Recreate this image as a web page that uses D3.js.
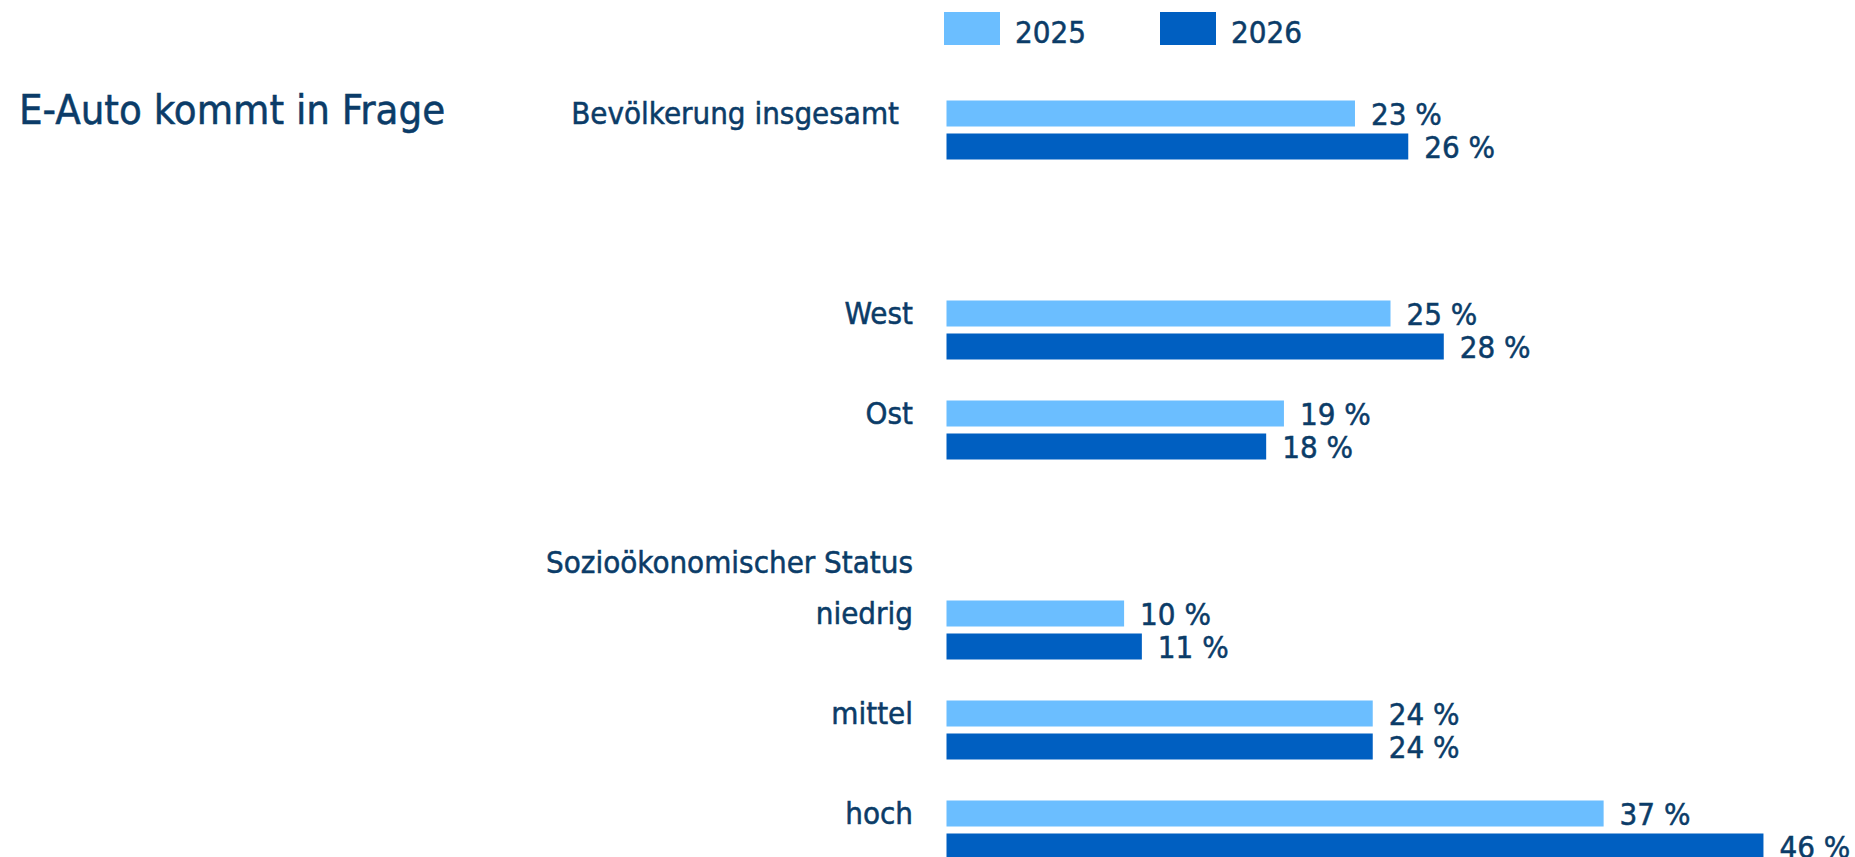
<!DOCTYPE html>
<html>
<head>
  <meta charset="utf-8">
  <title>E-Auto kommt in Frage</title>
  <script src="https://d3js.org/d3.v7.min.js"></script>
  <style>
    body { margin: 0; background: #ffffff; }
    text {
      font-family: "DejaVu Sans Condensed", "DejaVu Sans", sans-serif;
      fill: #0b3c68;
      stroke: #0b3c68;
      stroke-width: 0.5px;
    }
  </style>
</head>
<body>
  <svg id="chart" width="1855" height="857"></svg>
  <script>
    const categories = ["Bevölkerung insgesamt", "West", "Ost", "niedrig", "mittel", "hoch"];
    const years = ["2025", "2026"];
    const values2025 = [23, 25, 19, 10, 24, 37];
    const values2026 = [26, 28, 18, 11, 24, 46];
    const groupHeader = "Sozioökonomischer Status";
    const title = "E-Auto kommt in Frage";

    // row order incl. spacer and header rows
    const rows = ["Bevölkerung insgesamt", "gap", "West", "Ost", groupHeader, "niedrig", "mittel", "hoch"];

    const colors = { "2025": "#6bbeff", "2026": "#005fc1" };

    const svg = d3.select("svg#chart");

    const x = d3.scaleLinear().domain([0, 100]).range([946.5, 946.5 + 1776]);
    const y = d3.scaleBand().domain(rows).range([100.5, 900.5]).padding(0);
    const inner = d3.scaleBand().domain(years).range([0, 59]).paddingInner(0.212);

    const data = [];
    categories.forEach((c, i) => {
      data.push({ cat: c, year: "2025", value: values2025[i] });
      data.push({ cat: c, year: "2026", value: values2026[i] });
    });

    // title
    svg.append("text")
      .attr("x", 19)
      .attr("y", 124)
      .style("font-size", "41.5px")
      .text(title);

    // legend
    let legend = svg.append("g").attr("id", "legend");
    const legendX = { "2025": 944, "2026": 1160 };
    years.forEach(yr => {
      legend.append("rect")
        .attr("x", legendX[yr])
        .attr("y", 12)
        .attr("width", 56)
        .attr("height", 33)
        .attr("fill", colors[yr]);
      legend.append("text")
        .attr("x", legendX[yr] + 71)
        .attr("y", 43)
        .style("font-size", "31px")
        .text(yr);
    });

    let chartArea = svg.append("g").attr("id", "bars");

    // category labels
    chartArea.selectAll("text.cat").data(categories)
      .join("text")
      .attr("class", "cat")
      .attr("x", d => d == "Bevölkerung insgesamt" ? 899 : 913)
      .attr("y", d => y(d) + 23)
      .attr("text-anchor", "end")
      .style("font-size", "31px")
      .text(d => d);

    chartArea.append("text")
      .attr("x", 913)
      .attr("y", y(groupHeader) + 72)
      .attr("text-anchor", "end")
      .style("font-size", "31px")
      .text(groupHeader);

    chartArea.selectAll("rect.bar").data(data)
      .join("rect")
      .attr("class", "bar")
      .attr("x", x(0))
      .attr("y", d => y(d.cat) + inner(d.year))
      .attr("width", d => x(d.value) - x(0))
      .attr("height", inner.bandwidth())
      .attr("fill", d => colors[d.year]);

    chartArea.selectAll("text.val").data(data)
      .join("text")
      .attr("class", "val")
      .attr("x", d => x(d.value) + 16)
      .attr("y", d => y(d.cat) + inner(d.year) + inner.bandwidth() - 1.5)
      .style("font-size", "31px")
      .text(d => d.value + " %");
  </script>
</body>
</html>
